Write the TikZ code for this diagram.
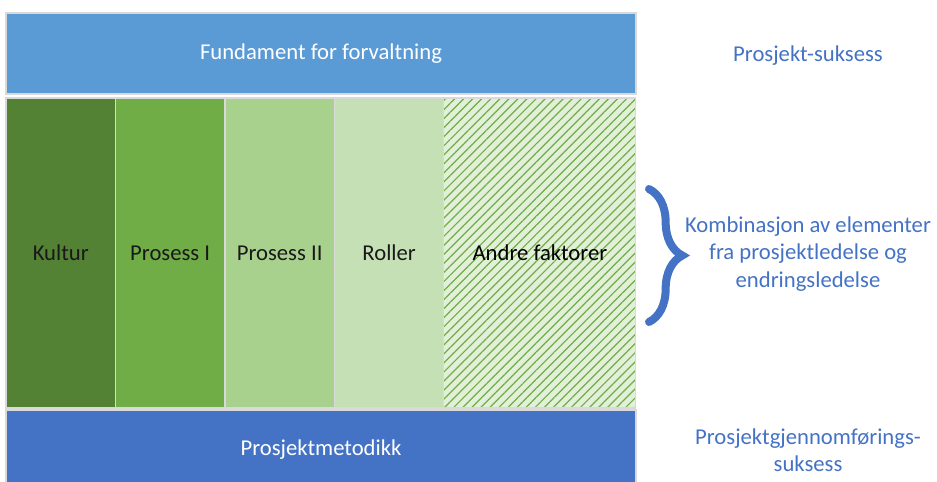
\documentclass[tikz,border=0pt]{standalone}
\usepackage{fontspec}
\setmainfont{Carlito}
\usetikzlibrary{positioning,patterns.meta,decorations.pathreplacing}
\definecolor{lysblaa}{HTML}{5B9BD5}
\definecolor{blaa}{HTML}{4472C4}
\definecolor{morkgronn}{HTML}{548235}
\definecolor{gronn}{HTML}{70AD47}
\definecolor{lysgronn}{HTML}{A9D18E}
\definecolor{blekgronn}{HTML}{C5E0B4}
\definecolor{hvitgronn}{HTML}{E2F0D9}

\begin{document}
\begin{tikzpicture}[x=0.75pt,y=-0.75pt,
        every node/.style={font=\fontsize{17}{20.6}\selectfont},
        bar/.style={draw=black!15,line width=0.9pt,outer sep=0pt,inner sep=0pt,
                    minimum width=472.5pt,text=white},
        col/.style={draw=black!15,line width=0.9pt,outer sep=0pt,inner sep=0pt,
                    minimum width=82.1pt,minimum height=232.5pt,text=black!90},
        merknad/.style={text=blaa,align=center}]
    \clip (0,0) rectangle (937,481);
    % fundament og metodikk
    \node (fundament) [bar,fill=lysblaa,minimum height=60.75pt] at (321,53.5) {Fundament for forvaltning};
    \node (metodikk) [bar,fill=blaa,minimum height=60pt] at (321,450) {Prosjektmetodikk};
    % elementene mellom
    \node (kultur) [col,fill=morkgronn,anchor=north west] at (6,98) {Kultur};
    \node (prosess1) [col,fill=gronn,right=0pt of kultur] {Prosess I};
    \node (prosess2) [col,fill=lysgronn,right=0pt of prosess1] {Prosess II};
    \node (roller) [col,fill=blekgronn,right=0pt of prosess2] {Roller};
    \node (andre) [col,minimum width=144pt,right=0pt of roller,preaction={fill=hvitgronn},
        pattern={Lines[angle=45,distance=4.8pt,line width=0.9pt]},pattern color=gronn] {};
    \node at (andre) {Andre faktorer};
    % klamme og tekst til hoyre
    \coordinate (klammetopp) at (649,189);
    \coordinate (klammebunn) at (649,322);
    \draw[blaa,line width=6pt,line cap=round,decorate,
        decoration={brace,amplitude=25pt,aspect=0.5}] (klammetopp) -- (klammebunn);
    \node (suksess) [merknad] at (808,56) {Prosjekt-suksess};
    \node (kombinasjon) [merknad] at (808,254) {Kombinasjon av elementer\\fra prosjektledelse og\\endringsledelse};
    \node (gjennomforing) [merknad] at (808,450) {Prosjektgjennomførings-\\suksess};
\end{tikzpicture}
\end{document}
